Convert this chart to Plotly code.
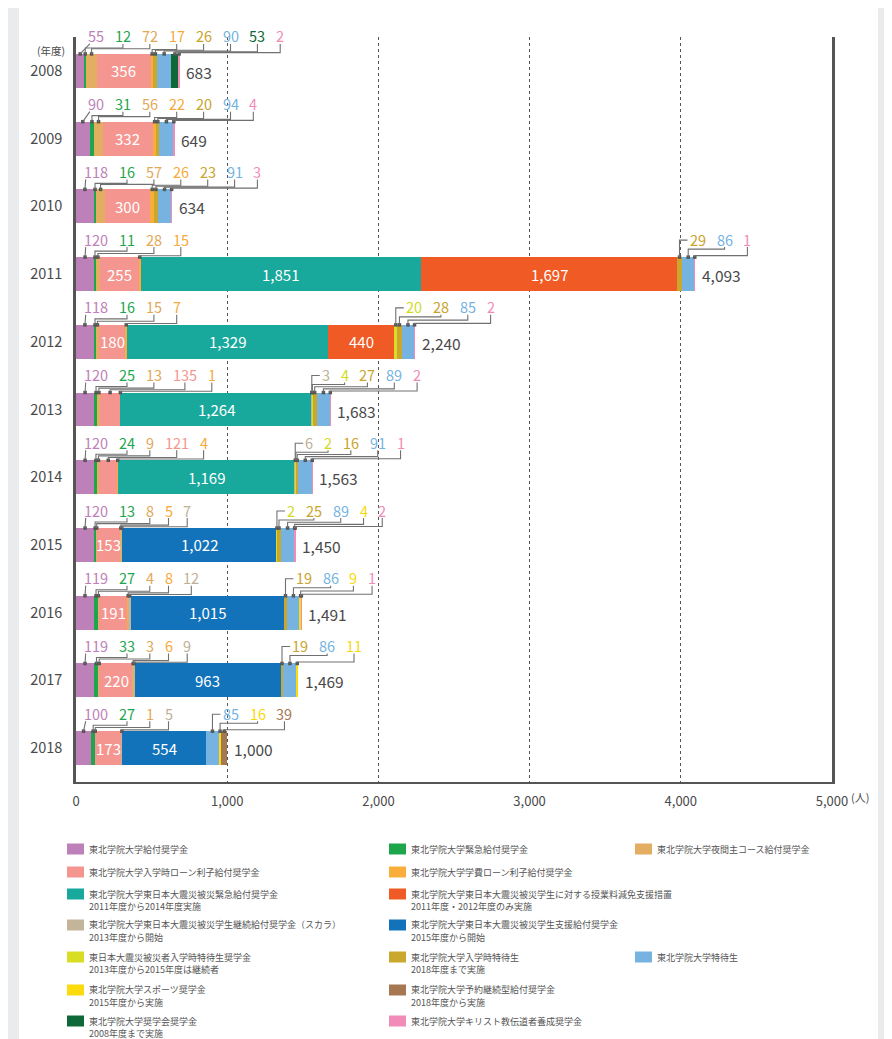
import plotly.graph_objects as go

# ---------------- data ----------------
years = ["2008", "2009", "2010", "2011", "2012", "2013", "2014", "2015", "2016", "2017", "2018"]

series_names = [
    "東北学院大学給付奨学金",
    "東北学院大学緊急給付奨学金",
    "東北学院大学夜間主コース給付奨学金",
    "東北学院大学入学時ローン利子給付奨学金",
    "東北学院大学学費ローン利子給付奨学金",
    "東北学院大学東日本大震災被災緊急給付奨学金",
    "東北学院大学東日本大震災被災学生に対する授業料減免支援措置",
    "東北学院大学東日本大震災被災学生継続給付奨学金（スカラ）",
    "東北学院大学東日本大震災被災学生支援給付奨学金",
    "東日本大震災被災者入学時特待生奨学金",
    "東北学院大学入学時特待生",
    "東北学院大学特待生",
    "東北学院大学スポーツ奨学金",
    "東北学院大学予約継続型給付奨学金",
    "東北学院大学奨学会奨学金",
    "東北学院大学キリスト教伝道者養成奨学金",
]
series_notes = [
    "", "", "", "", "",
    "2011年度から2014年度実施",
    "2011年度・2012年度のみ実施",
    "2013年度から開始",
    "2015年度から開始",
    "2013年度から2015年度は継続者",
    "2018年度まで実施",
    "",
    "2015年度から実施",
    "2018年度から実施",
    "2008年度まで実施",
    "",
]

kyufu       = [55, 90, 118, 120, 118, 120, 120, 120, 119, 119, 100]
kinkyu      = [12, 31, 16, 11, 16, 25, 24, 13, 27, 33, 27]
yakan       = [72, 56, 57, 28, 15, 13, 9, 8, 4, 3, 1]
nyugaku_loan = [356, 332, 300, 255, 180, 135, 121, 153, 191, 220, 173]
gakuhi_loan = [17, 22, 26, 15, 7, 1, 4, 5, 8, 6, 0]
shinsai_kinkyu = [0, 0, 0, 1851, 1329, 1264, 1169, 0, 0, 0, 0]
genmen      = [0, 0, 0, 1697, 440, 0, 0, 0, 0, 0, 0]
scala       = [0, 0, 0, 0, 0, 3, 6, 7, 12, 9, 5]
shien       = [0, 0, 0, 0, 0, 0, 0, 1022, 1015, 963, 554]
hisaisha_tokutai = [0, 0, 0, 0, 20, 4, 2, 2, 0, 0, 0]
nyugaku_tokutai = [26, 20, 23, 29, 28, 27, 16, 25, 19, 19, 0]
tokutai     = [90, 94, 91, 86, 85, 89, 91, 89, 86, 86, 85]
sports      = [0, 0, 0, 0, 0, 0, 0, 4, 9, 11, 16]
yoyaku      = [0, 0, 0, 0, 0, 0, 0, 0, 0, 0, 39]
shogakukai  = [53, 0, 0, 0, 0, 0, 0, 0, 0, 0, 0]
kirisuto    = [2, 4, 3, 1, 2, 2, 1, 2, 1, 0, 0]

values = [kyufu, kinkyu, yakan, nyugaku_loan, gakuhi_loan, shinsai_kinkyu, genmen, scala,
          shien, hisaisha_tokutai, nyugaku_tokutai, tokutai, sports, yoyaku, shogakukai, kirisuto]

x_ticks = [0, 1000, 2000, 3000, 4000, 5000]
x_ticktext = ["0", "1,000", "2,000", "3,000", "4,000", "5,000"]

# ---------------- styles ----------------
colors = ["#BE80B8", "#1EA64C", "#E3AE62", "#F4958F", "#F9AE3C", "#18A89C", "#EF5A25",
          "#C4B59A", "#1373BA", "#D7DE24", "#C9A82D", "#76B3E1", "#FBDB0E", "#A57852",
          "#0E6837", "#F18BB7"]
label_colors = ["#BE80B8", "#1EA64C", "#E2A858", "#F4958F", "#F7A93A", "#18A89C", "#EF5A25",
                "#BDAF96", "#1373BA", "#D2DA1E", "#C9A42A", "#76B3E1", "#F8D80A", "#A57852",
                "#0E6837", "#F18BB7"]
legend_layout = [  # (col, row)
    (0, 0), (1, 0), (2, 0), (0, 1), (1, 1), (0, 2), (1, 2), (0, 3), (1, 3),
    (0, 4), (1, 4), (2, 4), (0, 5), (1, 5), (0, 6), (1, 6)]

FONT = "Noto Sans CJK JP, Noto Sans, sans-serif"
OFF = 8                  # page body margin
W, H = 892 - OFF, 1039 - OFF
L, T = 76 - OFF, 37 - OFF
PW, PH = 756, 745
R, B = W - L - PW, H - T - PH
XMAX = 5000
NY = len(years)
SX = PW / XMAX          # px per unit
SY = PH / NY            # px per category
BAR_W = 0.5
INSIDE_MIN = 150
DIG = 8.2
PAD = 10.5
FIRST_X = 20
JUMP_GAP = 10
LINE_C = "#707070"


def px2paper_x(px):  # px in page coordinates
    return (px - OFF - L) / PW


def px2paper_y(py):
    return (T + PH - (py - OFF)) / PH


idx = list(range(NY))
fig = go.Figure()
for s, vals in enumerate(values):
    fig.add_trace(go.Bar(
        x=vals, y=idx, orientation="h", width=BAR_W, name=series_names[s],
        marker=dict(color=colors[s], line=dict(width=0)),
        showlegend=False, hoverinfo="skip"))

annotations = []
shapes = []
dot_x, dot_y = [], []

for i in range(NY):
    top = i - BAR_W / 2
    cum = 0
    labels = []
    for s in range(len(values)):
        v = values[s][i]
        if v == 0:
            continue
        start = cum
        cum += v
        mid = start + v / 2
        if v >= INSIDE_MIN:
            annotations.append(dict(x=mid, y=i, xref="x", yref="y", text=f"{v:,}",
                                    showarrow=False, font=dict(size=15, color="white", family=FONT)))
            continue
        labels.append(dict(v=v, s=s, mid=mid))
    # total
    annotations.append(dict(x=cum, y=i, xref="x", yref="y", text=f"{cum:,}", xanchor="left",
                            xshift=5, yshift=-1, showarrow=False,
                            font=dict(size=15.5, color="#4A4A4A", family=FONT)))
    # place outside labels
    prev = None
    groups = []
    for lab in labels:
        w = DIG * len(str(lab["v"]))
        mpx = lab["mid"] * SX
        if prev is None:
            x, kind = FIRST_X, "first"
        else:
            cand = prev["x"] + (prev["w"] + w) / 2 + PAD
            if mpx + JUMP_GAP > cand - w / 2:
                x, kind = mpx + JUMP_GAP + w / 2, "jump"
            else:
                x, kind = cand, "normal"
        lab.update(x=x, w=w, kind=kind, mpx=mpx)
        if kind != "normal":
            groups.append([lab])
        else:
            groups[-1].append(lab)
        prev = lab

    def yy(p, top=top):  # p px above bar top
        return top - p / SY

    for g in groups:
        n = len(g) - 1
        hi, lo = (6.0, 1.3) if g[0]["kind"] == "first" else (8.0, 1.5)
        for j, lab in enumerate(g):
            xc, w, mpx = lab["x"], lab["w"], lab["mpx"]
            annotations.append(dict(x=xc / SX, y=top, yshift=18, xref="x", yref="y",
                                    text=str(lab["v"]), showarrow=False, yanchor="middle",
                                    font=dict(size=14.5, color=label_colors[lab["s"]], family=FONT)))
            if lab["kind"] == "first":
                path = f"M {(xc - w / 2 + 2) / SX},{yy(10)} L {mpx / SX},{yy(0)}"
            elif lab["kind"] == "jump":
                path = (f"M {(xc - w / 2 - 2) / SX},{yy(17)} L {mpx / SX},{yy(17)} "
                        f"L {mpx / SX},{yy(0)}")
            else:
                lvl = hi - (hi - lo) * (j - 1) / max(n - 1, 1)
                path = (f"M {xc / SX},{yy(10)} L {xc / SX},{yy(lvl)} L {mpx / SX},{yy(lvl)} "
                        f"L {mpx / SX},{yy(0)}")
            shapes.append(dict(type="path", path=path, xref="x", yref="y",
                               line=dict(color=LINE_C, width=1.1)))
            dot_x.append(lab["mid"])
            dot_y.append(top)

fig.add_trace(go.Scatter(x=dot_x, y=dot_y, mode="markers", cliponaxis=False,
                         marker=dict(size=3.5, color="#555", symbol="square"),
                         showlegend=False, hoverinfo="skip"))

# white card
shapes.insert(0, dict(type="rect", xref="paper", yref="paper", layer="below",
                      x0=px2paper_x(19), x1=px2paper_x(878), y0=px2paper_y(1060), y1=px2paper_y(4),
                      fillcolor="white", line=dict(width=0)))

# axis unit annotations
annotations.append(dict(x=px2paper_x(67), y=px2paper_y(50), xref="paper", yref="paper", text="(年度)",
                        xanchor="right", yanchor="middle", showarrow=False,
                        font=dict(size=10.5, color="#4A4A4A", family=FONT)))
annotations.append(dict(x=px2paper_x(849), y=px2paper_y(797), xref="paper", yref="paper", text="(人)",
                        xanchor="left", yanchor="middle", showarrow=False,
                        font=dict(size=11, color="#4A4A4A", family=FONT)))

# legend (custom grid)
col_x = [67, 389, 635]
row_y = [849, 872, 894, 925, 957, 990, 1021]
for s, (c, r) in enumerate(legend_layout):
    sx, sy = col_x[c], row_y[r]
    shapes.append(dict(type="rect", xref="paper", yref="paper",
                       x0=px2paper_x(sx), x1=px2paper_x(sx + 17),
                       y0=px2paper_y(sy + 5.5), y1=px2paper_y(sy - 5.5),
                       fillcolor=colors[s], line=dict(width=0)))
    annotations.append(dict(x=px2paper_x(sx + 20), y=px2paper_y(sy), xref="paper", yref="paper",
                            text=series_names[s], xanchor="left", yanchor="middle", showarrow=False,
                            font=dict(size=9, color="#555", family=FONT)))
    if series_notes[s]:
        annotations.append(dict(x=px2paper_x(sx + 20), y=px2paper_y(sy + 12), xref="paper",
                                yref="paper", text=series_notes[s], xanchor="left", yanchor="middle",
                                showarrow=False, font=dict(size=9, color="#555", family=FONT)))

fig.update_layout(
    width=W, height=H, barmode="stack",
    margin=dict(l=L, r=R, t=T, b=B, autoexpand=False),
    paper_bgcolor="#EAEBEC", plot_bgcolor="rgba(0,0,0,0)",
    font=dict(family=FONT, color="#4A4A4A"),
    showlegend=False,
    xaxis=dict(range=[0, XMAX], tickvals=x_ticks, ticktext=x_ticktext, showgrid=True,
               gridcolor="#555", griddash="dot", gridwidth=1, showline=True, linecolor="#555",
               linewidth=2, zeroline=False, ticks="", ticklabelstandoff=6,
               tickfont=dict(size=13, color="#4A4A4A"), fixedrange=True),
    yaxis=dict(range=[NY - 0.5, -0.5], tickvals=idx, ticktext=years, showline=True,
               linecolor="#555", linewidth=2.5, mirror=True, showgrid=False, zeroline=False,
               ticks="", ticklabelstandoff=8, tickfont=dict(size=14.5, color="#4A4A4A"),
               fixedrange=True),
    annotations=annotations,
    shapes=shapes,
)

fig.write_html("out.html")
